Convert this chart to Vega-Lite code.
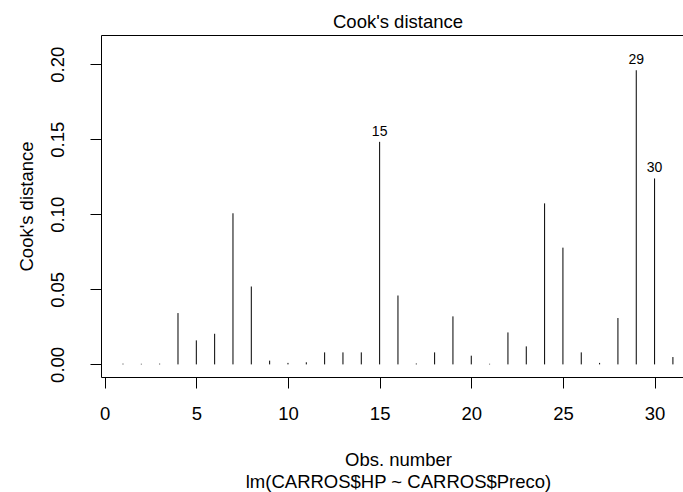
{
  "$schema": "https://vega.github.io/schema/vega-lite/v6.json",
  "width": 582,
  "height": 342,
  "autosize": {"type": "none"},
  "padding": {"left": 101, "top": 35, "right": 0, "bottom": 115},
  "background": "white",
  "config": {
    "view": {"stroke": null},
    "font": "Liberation Sans",
    "axis": {
      "grid": false,
      "domainColor": "black",
      "tickColor": "black",
      "labelColor": "black",
      "titleColor": "black",
      "labelFont": "Liberation Sans",
      "titleFont": "Liberation Sans",
      "labelFontSize": 18.5,
      "titleFontSize": 18.5,
      "titleFontWeight": "normal",
      "domainWidth": 1,
      "tickWidth": 1,
      "tickSize": 11,
      "labelFlush": false,
      "labelOverlap": false
    }
  },
  "title": {
    "text": "Cook's distance",
    "font": "Liberation Sans",
    "fontSize": 18.5,
    "fontWeight": "normal",
    "color": "black",
    "anchor": "middle",
    "dx": 6,
    "offset": -11,
    "baseline": "alphabetic"
  },
  "data": {
    "values": [
      {"obs": 1, "cook": 0.0005, "label": null},
      {"obs": 2, "cook": 0.0004, "label": null},
      {"obs": 3, "cook": 0.0005, "label": null},
      {"obs": 4, "cook": 0.0342, "label": null},
      {"obs": 5, "cook": 0.0160, "label": null},
      {"obs": 6, "cook": 0.0204, "label": null},
      {"obs": 7, "cook": 0.1007, "label": null},
      {"obs": 8, "cook": 0.0519, "label": null},
      {"obs": 9, "cook": 0.0025, "label": null},
      {"obs": 10, "cook": 0.0010, "label": null},
      {"obs": 11, "cook": 0.0014, "label": null},
      {"obs": 12, "cook": 0.0080, "label": null},
      {"obs": 13, "cook": 0.0080, "label": null},
      {"obs": 14, "cook": 0.0080, "label": null},
      {"obs": 15, "cook": 0.1483, "label": "15"},
      {"obs": 16, "cook": 0.0459, "label": null},
      {"obs": 17, "cook": 0.0006, "label": null},
      {"obs": 18, "cook": 0.0080, "label": null},
      {"obs": 19, "cook": 0.0320, "label": null},
      {"obs": 20, "cook": 0.0058, "label": null},
      {"obs": 21, "cook": 0.0004, "label": null},
      {"obs": 22, "cook": 0.0213, "label": null},
      {"obs": 23, "cook": 0.0120, "label": null},
      {"obs": 24, "cook": 0.1073, "label": null},
      {"obs": 25, "cook": 0.0778, "label": null},
      {"obs": 26, "cook": 0.0080, "label": null},
      {"obs": 27, "cook": 0.0010, "label": null},
      {"obs": 28, "cook": 0.0309, "label": null},
      {"obs": 29, "cook": 0.1960, "label": "29"},
      {"obs": 30, "cook": 0.1239, "label": "30"},
      {"obs": 31, "cook": 0.0049, "label": null}
    ]
  },
  "encoding": {
    "y": {
      "field": "cook",
      "type": "quantitative",
      "scale": {"domain": [-0.0084, 0.2195], "nice": false, "zero": false},
      "axis": {
        "values": [0, 0.05, 0.1, 0.15, 0.2],
        "format": ".2f",
        "labelAngle": -90,
        "labelAlign": "center",
        "labelBaseline": "alphabetic",
        "labelPadding": 27,
        "title": "Cook's distance",
        "titleAngle": -90,
        "titleAlign": "center",
        "titleBaseline": "alphabetic",
        "titleX": -69,
        "titleY": 171
      }
    }
  },
  "layer": [
    {
      "mark": {"type": "rule", "color": "black", "strokeWidth": 1},
      "encoding": {
        "x": {
          "field": "obs",
          "type": "quantitative",
          "scale": {"domain": [-0.2, 31.55], "nice": false, "zero": false},
          "axis": {
            "orient": "bottom",
            "values": [0, 5, 10, 15, 20, 25, 30],
            "labelBaseline": "alphabetic",
            "labelPadding": 31,
            "title": ["Obs. number", "lm(CARROS$HP ~ CARROS$Preco)"],
            "titleBaseline": "alphabetic",
            "titleLineHeight": 22,
            "titleAlign": "center",
            "titleX": 297,
            "titleY": 88
          }
        },
        "y2": {"datum": 0}
      }
    },
    {
      "transform": [{"filter": "datum.label != null"}],
      "mark": {"type": "text", "font": "Liberation Sans", "fontSize": 14, "dy": -10, "baseline": "middle", "color": "black"},
      "encoding": {
        "x": {
          "field": "obs",
          "type": "quantitative",
          "axis": {"orient": "top", "labels": false, "ticks": false, "title": null, "domain": true}
        },
        "text": {"field": "label"}
      }
    }
  ],
  "resolve": {"axis": {"x": "independent"}}
}
